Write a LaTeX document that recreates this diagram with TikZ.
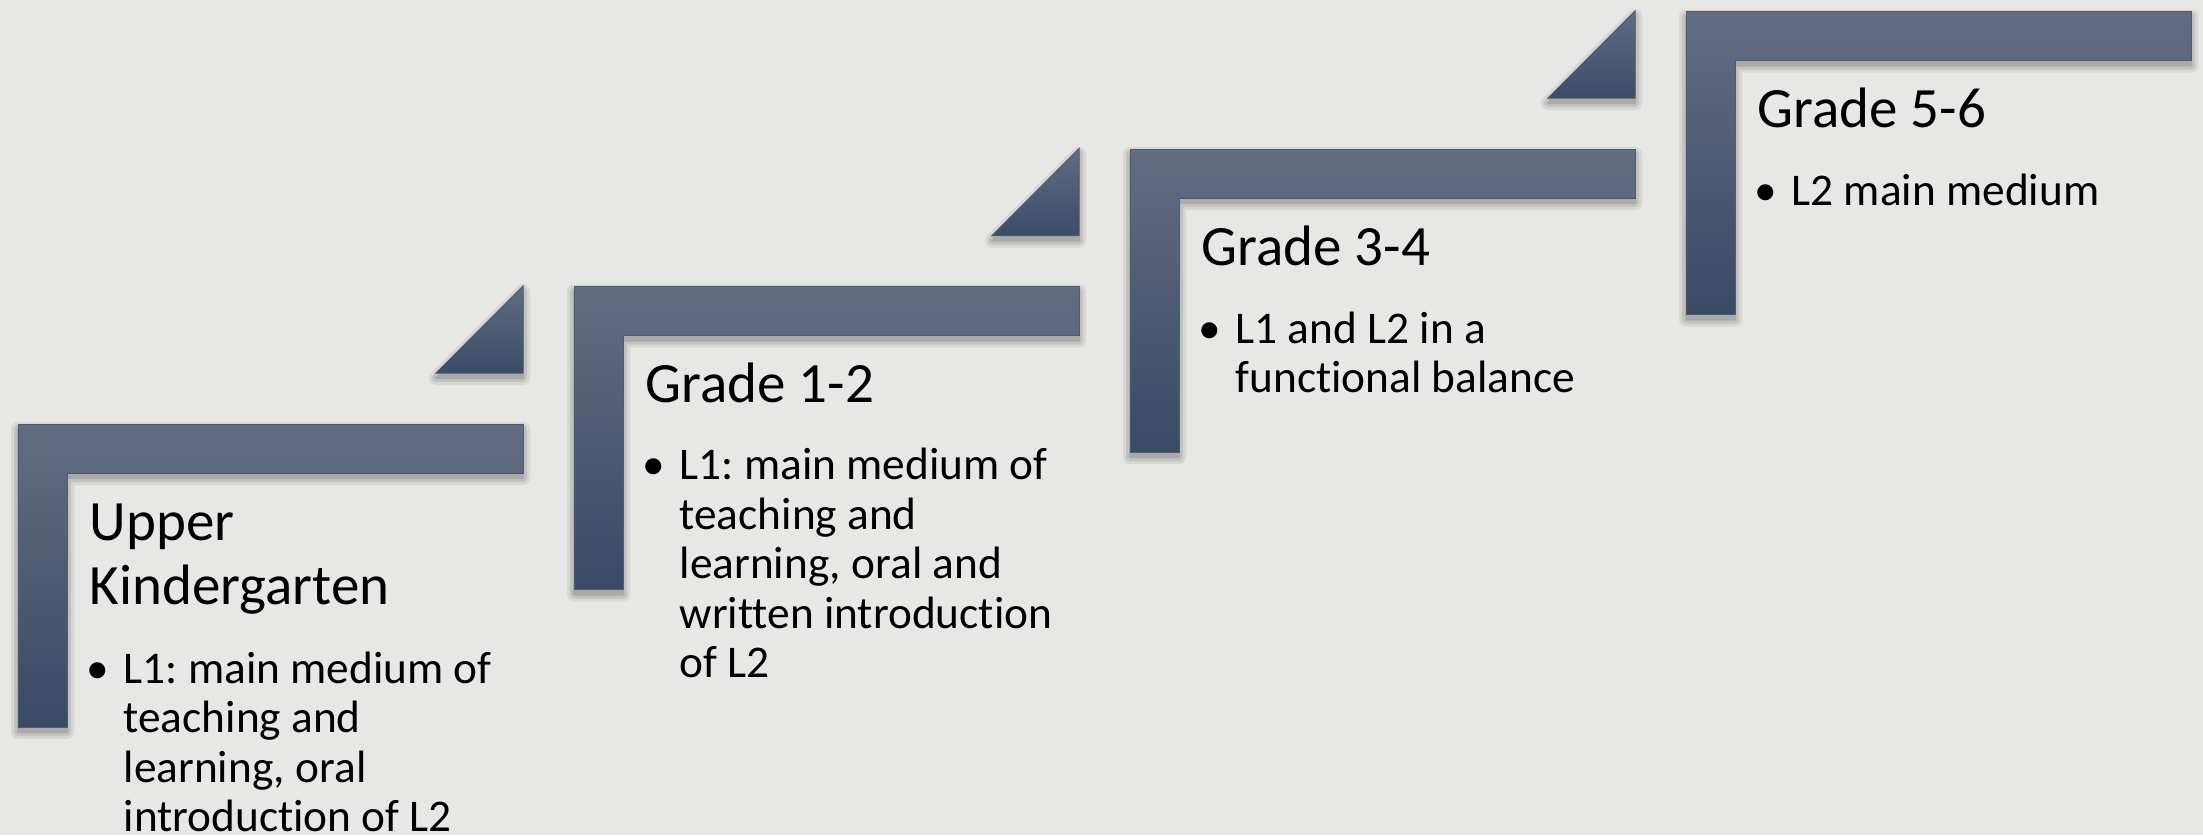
\documentclass[tikz,border=0pt]{standalone}
\usepackage{fontspec}
\setmainfont{Carlito}[Ligatures={NoCommon}]
\frenchspacing
\definecolor{bgcol}{HTML}{E7E7E5}
\definecolor{stairtop}{HTML}{616D81}
\definecolor{stairbot}{HTML}{3A4966}
\definecolor{wedgetop}{HTML}{5F6C81}
\definecolor{wedgebot}{HTML}{3C4B68}
\definecolor{edgecol}{HTML}{4E5B70}

% stack of lines whose baseline is the first line's baseline
\newcommand\linestack[2]{\vtop{\baselineskip=#1\lineskiplimit=-20pt\halign{##\hfil\cr#2\crcr}}}
\newcommand\bul{\llap{•\hspace{4.3pt}}}

% outline of one step (L-shaped bar) and of the small wedge above it
\def\Lpath{(0,0) -- (505,0) -- (505,49) -- (49,49) -- (49,303) -- (0,303) -- cycle}
\def\Tpath{(505,-138) -- (505,-51) -- (418,-51) -- cycle}

\begin{document}
\begin{tikzpicture}[x=0.3pt,y=-0.3pt,
  titletext/.style={anchor=base west, inner sep=0pt, text=black,
    font=\fontsize{17.1}{19.2}\selectfont},
  bullettext/.style={anchor=base west, inner sep=0pt, text=black,
    font=\fontsize{13.6}{14.85}\selectfont},
  softshadow/.style={fill=black, draw=black, line join=round},
  stairfill/.style={top color=stairtop, bottom color=stairbot, draw=edgecol, line width=0.3pt},
  wedgefill/.style={top color=wedgetop, bottom color=wedgebot, draw=edgecol, line width=0.3pt},
]
\fill[bgcol] (0,0) rectangle (2203,835);
\useasboundingbox (0,0) rectangle (2203,835);

% one step: shadow, bar, optional wedge
\newcommand\stairstep[3]{%
  \begin{scope}[shift={(#1,#2)}]
    \begin{scope}[shift={(0,5)}]
      \begin{scope}[transparency group, opacity=.07]
        \path[softshadow, line width=4.2pt] \Lpath;
        \ifnum#3=1 \path[softshadow, line width=4.2pt] \Tpath; \fi
      \end{scope}
      \begin{scope}[transparency group, opacity=.09]
        \path[softshadow, line width=2.4pt] \Lpath;
        \ifnum#3=1 \path[softshadow, line width=2.4pt] \Tpath; \fi
      \end{scope}
      \begin{scope}[transparency group, opacity=.12]
        \path[softshadow, line width=0.6pt] \Lpath;
        \ifnum#3=1 \path[softshadow, line width=0.6pt] \Tpath; \fi
      \end{scope}
    \end{scope}
    \shade[stairfill] \Lpath;
    \ifnum#3=1 \shade[wedgefill] \Tpath; \fi
  \end{scope}}

\stairstep{18}{424}{1}
\stairstep{574}{286.5}{1}
\stairstep{1130}{149}{1}
\stairstep{1686}{11.5}{0}

% texts of the four steps
\node[titletext] (t1) at (89,540) {\linestack{19.2pt}{Upper\cr Kindergarten}};
\node[bullettext] (b1) at (123,683) {\linestack{14.85pt}{\bul L1: main medium of\cr teaching and\cr learning, oral\cr introduction of L2}};

\node[titletext] (t2) at (645,402.5) {\linestack{19.2pt}{Grade 1-2}};
\node[bullettext] (b2) at (679,479.5) {\linestack{14.85pt}{\bul L1: main medium of\cr teaching and\cr learning, oral and\cr written introduction\cr of L2}};

\node[titletext] (t3) at (1201,265) {\linestack{19.2pt}{Grade 3-4}};
\node[bullettext] (b3) at (1235,343) {\linestack{14.85pt}{\bul L1 and L2 in a\cr functional balance}};

\node[titletext] (t4) at (1757,127.5) {\linestack{19.2pt}{Grade 5-6}};
\node[bullettext] (b4) at (1791,205) {\linestack{14.85pt}{\bul L2 main medium}};
\end{tikzpicture}
\end{document}
